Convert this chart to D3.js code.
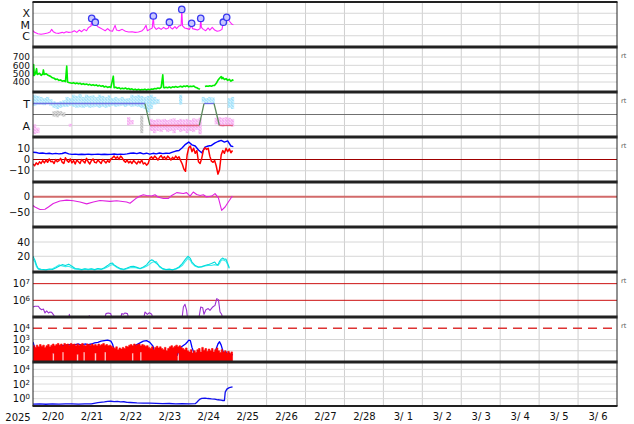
<!DOCTYPE html>
<html><head><meta charset="utf-8">
<script src="https://cdn.jsdelivr.net/npm/d3@7"></script>
<style>
body{margin:0;background:#fff;}
svg{display:block;font-family:"DejaVu Sans",sans-serif;}
</style></head><body>
<svg id="c" width="634" height="424"></svg>
<script>
// ---------- DATA (hours from 2025-02-20 00:00 UT) ----------
const xrayHours = [0,1,3,5,7,9,10.5,11.5,12.5,14,16,18,19,20.5,22,24,25.5,27,28.5,30,31.5,33,34,35,35.8,36.2,36.6,37.5,38.4,39,40,41.5,43,44.5,46,47.5,49,50.6,51.5,53,55,57,59,61,63,65,67,68.5,69.7,70.5,72,73.5,74.2,74.6,76,77.5,79,80.5,82,83.5,84.1,84.6,86,87.5,88.5,90,91.3,91.7,92.2,93.5,95,96.5,97.8,98.3,100,101.5,103,103.4,103.8,105,106.5,108,109,110.5,112,113.5,115,116.5,117.3,118.3,119.4,120.5,121.5,122.5,123.5];
const xrayFlux = [2.8e-6,2.0e-6,1.53e-6,1.34e-6,1.53e-6,1.75e-6,2.15e-6,3.7e-6,2.3e-6,1.75e-6,1.64e-6,2.0e-6,1.75e-6,2.3e-6,2.0e-6,2.15e-6,2.8e-6,2.0e-6,3.2e-6,2.3e-6,3.7e-6,2.8e-6,4.9e-6,6.4e-6,7.4e-6,3.5e-5,9.0e-6,1.1e-5,1.6e-5,9.0e-6,6.4e-6,4.9e-6,3.7e-6,2.8e-6,4.3e-6,2.8e-6,2.5e-6,8.4e-6,3.2e-6,2.8e-6,3.7e-6,2.5e-6,2.15e-6,2.3e-6,2.0e-6,2.15e-6,2.6e-6,4.3e-6,8.4e-6,2.8e-6,3.7e-6,4.9e-6,5.7e-5,6.4e-6,3.7e-6,5.2e-6,3.7e-6,5.6e-6,4.0e-6,4.9e-6,1.6e-5,5.6e-6,4.0e-6,6.4e-6,4.3e-6,7.4e-6,8.4e-6,2.2e-4,7.4e-6,4.9e-6,4.3e-6,3.7e-6,1.27e-5,4.3e-6,3.7e-6,3.2e-6,4.3e-6,3.5e-5,5.6e-6,3.7e-6,2.8e-6,4.9e-6,3.2e-6,5.6e-6,3.2e-6,2.5e-6,2.8e-6,3.7e-6,1.6e-5,1.27e-5,4.3e-5,2.5e-5,1.67e-5,1.1e-5,9.7e-6];
const flareHours = [36.2,38.4,74.2,84.1,91.7,97.8,103.4,117.3,119.4];
const flareFlux = [3.5e-5,1.6e-5,5.7e-5,1.6e-5,2.2e-4,1.27e-5,3.5e-5,1.6e-5,4.3e-5];
const xrayTicks = [1e-6,1e-5,1e-4];
const xrayTickLabels = ["C","M","X"];

const speedHours = [0,0.4,0.8,1.5,2.2,2.6,4,5,6,6.4,6.9,8,9,10,11,12,13,14,15,16,17,18,19,20,20.8,21.3,22,24,25,26,27,28,29,30,31,32,33,34,35,36,37,38,39,40,41,42,43,44,45,46,47,48,49.5,50,51,52,53,54,55,56,57,58,59,60,61,62,63,64,65,66,67,68,69,70,71,72,73,74,75,76,77,78,79,80,80.5,81,82,83,84,85,86,87,88,89,90,91,92,93,94,95,96,97,98,99,100,101,102,103,103.5,106,107,108,109,110,111,112,113,114,115,116,116.5,117,118,119,120,121,122,123,123.5];
const speedValues = [470,610,480,500,560,490,505,480,495,545,490,500,485,475,465,450,445,430,435,420,425,410,415,405,590,400,395,385,392,380,388,378,385,372,380,370,376,365,372,360,368,358,365,352,360,348,355,340,348,335,342,335,470,332,338,325,332,318,326,320,328,315,322,310,318,306,314,305,312,303,310,306,314,305,312,308,316,312,322,318,328,322,335,485,335,330,338,332,340,330,342,336,345,338,342,350,340,352,345,355,342,350,345,352,338,330,320,315,null,345,352,348,355,350,358,360,385,420,445,465,440,455,430,440,420,432,410,425,415];
const speedTicks = [400,500,600,700];

const sectorLineHours = [0,69,72.1,102.5,105.4,111.6,114.9,123.2];
const sectorLineValues = [1,1,-1,-1,1,1,-1,-1];
const sectorBinHours = [0,2,4,6,8,10,12,14,16,18,20,22,24,26,28,30,32,34,36,38,40,42,44,46,48,50,52,54,56,58,60,62,64,66,68,70,72,74,76,78,80,82,84,86,88,90,92,94,96,98,100,102,104,106,108,110,112,114,116,118,120,122];
const towardHi = [1.8,1.7,1.6,1.5,1.6,1.4,1.2,1.1,1.2,1.3,1.6,1.5,1.8,1.7,1.85,1.6,1.8,1.7,1.75,1.6,1.8,1.7,1.6,1.75,1.5,1.6,1.5,1.6,1.45,1.5,1.8,1.7,1.8,1.7,1.6,1.7,1.8,1.6,1.4,null,null,null,null,null,null,1.8,null,null,null,null,null,null,1.6,1.5,1.6,1.55,null,null,null,null,1.5,1.6];
const towardLo = [0.8,0.9,0.9,0.85,1.0,0.8,0.6,0.5,0.6,0.7,0.7,0.8,0.7,0.6,0.65,0.6,0.7,0.6,0.65,0.7,0.6,0.7,0.6,0.7,0.8,0.7,0.75,0.8,0.7,0.8,0.7,0.75,0.7,0.6,0.5,0.2,0.5,0.9,1.0,null,null,null,null,null,null,0.9,null,null,null,null,null,null,1.1,1.0,1.1,1.0,null,null,null,null,0.6,0.5];
const awayHi = [-0.9,-1.2,null,null,null,null,null,null,null,null,null,-0.85,null,null,null,null,null,null,null,null,null,null,null,null,null,null,null,null,null,-0.25,-0.5,null,null,null,null,null,-0.4,-0.5,-0.4,-0.45,-0.4,-0.5,-0.4,-0.35,-0.5,-0.4,-0.45,-0.4,-0.5,-0.35,-0.4,-0.3,null,null,null,null,-0.3,-0.25,-0.3,-0.25,-0.3,-0.4];
const awayLo = [-1.8,-1.7,null,null,null,null,null,null,null,null,null,-1.1,null,null,null,null,null,null,null,null,null,null,null,null,null,null,null,null,null,-1.0,-0.9,null,null,null,null,null,-1.5,-1.7,-1.5,-1.6,-1.4,-1.6,-1.5,-1.7,-1.4,-1.6,-1.5,-1.7,-1.5,-1.6,-1.4,-1.8,null,null,null,null,-0.9,-1.0,-1.1,-0.95,-1.0,-1.1];
const grayBinHours = [12,14,16,18,66];
const grayHi = [0.3,0.35,0.3,0.2,-0.1];
const grayLo = [-0.2,-0.25,-0.1,-0.2,-1.7];
const sectorTicks = [1,-1];
const sectorTickLabels = ["T","A"];

const btHours = [0,2,4,6,8,10,12,14,16,18,20,22,24,26,28,30,32,34,36,38,40,42,44,46,48,50,52,54,56,58,60,62,64,66,68,70,72,74,76,78,80,82,84,86,88,90,92,94,96,98,100,102,104,106,108,110,112,114,116,118,120,122,123.5];
const btValues = [6.5,6.2,5.5,5.8,5.2,5.6,5.0,5.4,5.0,5.3,6.2,5.0,4.6,4.8,4.4,4.7,4.5,4.8,4.4,4.6,4.8,4.5,4.7,4.4,4.6,4.9,4.5,4.8,4.6,5.0,5.5,5.8,5.2,6.0,5.0,5.6,4.8,5.5,5.0,5.8,5.2,5.6,5.4,6.5,7.5,8.0,10.5,13.5,15.5,13.0,12.0,8.5,6.0,11.0,12.0,12.5,14.5,16.0,17.0,15.5,16.5,12.0,11.5];
const bzValues = [-4,-5.5,-3,-4.5,-2,-3.5,-1,-3,-0.5,-2.5,0.5,
  -2,-1.5,-3.5,0,-2,-1,1,-2.5,-3.5,1.5,
  -1,-2.5,0.5,-3,-1,-4,-0.5,-2,-3.5,0,
  -1.5,-3,1,-2,-4,-1,0.5,-2.5,-3,-0.5,
  -2,-3.5,0,-1.5,-3,-1,-2.5,0.5,1.5,3,
  1,2.5,0,3,1.5,-1,-2.5,-0.5,-3,-1.5,
  -3.5,-1,-2.5,-4,-1.5,-3,-0.5,-4,-3,-5,
  -3.5,1,2.5,0.5,3,1.5,-0.5,2,3.5,1,
  2.5,0,3,1.5,-0.5,2,0.5,3,1,2.5,
  -1,-4,-8.5,-10.5,4,10.5,12,7,10,5.5,
  8,-2,-3.5,1,8,10.5,9,10,3,-1.5,
  -2.5,-1,-6,-13,-9,4,8,5.5,10,7,
  9.5,6,8];
const imfTicks = [10,0,-10];

const dstHours = [0,1.2,4.3,7.4,9.5,12.5,16.6,20.8,24.9,29,33.1,37.2,41.3,47.5,51.6,57.7,59.8,63.9,66,68,70,73.2,75.2,77.3,80.4,83.4,85.5,88.6,92.7,94.7,96.8,98.8,100.9,103,105,107,110.2,112.2,114.3,116.3,118.4,120.4,122.9];
const dstValues = [-28,-33,-41,-40,-33,-22,-14,-11,-13,-17,-23,-17,-12,-15,-13,-17,-21,-4,2,6,4,2,6,-2,-6,-6,4,13,10,13,2,15,7,4,6,-1,2,10,-4,-44,-33,-17,2];
const dstTicks = [0,-50];

const densHours = [0,1.2,2.2,3.3,5,8,10,12,14,16,18,20,22,24,26,28,30,32,34,36,38,40,42,44,46,47.5,49,50,52,54,56,58,60,62,64,66,68,70,72,73,74,76,77,78,80,82,84,86,88,90,92,94,95.5,97,98,100,102,104,106,108,110,112,113,114,115,116,117,118,119,120,121];
const densA = [20,14.4,7.5,2.7,1.8,1.2,2.2,1.5,3.5,6,8.3,7,9,6,3,2.5,1.5,2.5,1.8,2.5,1.5,3,2,4,7,9.7,10.5,8,5,2.7,1.8,3.5,5.5,6,4.5,3,5,8,13.5,15,14.4,10,8.3,6,2.7,1.5,2,1.2,2.5,5,9.7,16,20,17,12,7,5,5.5,7,8.3,10,12,9,8,13,16,17.5,15.8,16,10,4];
const densB = [16,12,5,2,1.2,0.8,1.5,2.5,5,8,6.5,5.5,6,4,2,1.5,1,2,1.2,2,1,2.2,1.5,3,5,7,8.5,7,4,2,1.2,2.5,4,4.5,3.5,2.5,4,6,9,11,12,12.5,9,5,2,1.2,1.5,1,2,4,7,13,17,14.5,10,6,4.5,5,6.5,7,7,8.3,7.5,7,10,14,15,14,13,8,3];
const densTicks = [20,40];

const elecHours = [0,1.2,3.3,4.3,5.3,6.4,7.4,8.4,9.5,10.5,11.5,12.9,14.2,21.8,22.4,23.2,34,34.7,35.5,43.8,45,46.4,47.9,49.1,53.6,54.7,55.7,56.7,58.2,59.4,68,69,70.5,71.7,73.2,74.2,91.7,92.7,93.7,94.7,95.4,102,103.4,104.6,105.4,106.6,108,109.1,110.8,112.2,113.3,114.3,115.3,116.3,117.3,123.5];
const elecFlux = [4e5,4.4e5,4.4e5,3.2e5,2.75e5,3e5,1.75e5,2.3e5,1.75e5,2e5,1.9e5,1.26e5,6e4,6e4,1.45e5,6e4,6e4,1.2e5,6e4,6e4,1.6e5,1.75e5,1.6e5,6e4,6e4,1.6e5,1.45e5,1.75e5,1.6e5,6e4,6e4,2e5,1.45e5,1.8e5,1.45e5,6e4,6e4,4e5,5.75e5,2.5e5,6e4,6e4,4e5,3.6e5,1.45e5,2.75e5,3.2e5,2.5e5,4e5,5e5,1.26e6,1.1e6,2e5,1.45e5,6e4,6e4];
const elecTicks = [1e6,1e7];

const protHours = [0,1,2,3,4,5,6,7,8,9,10,12,13,14,16,18,20,22,24,26,28,30,32,34,36,38,40,42,44,46,48,49,50,51,52,53,54,55,56,57,58,59,60,62,64,66,68,70,72,74,75,76,77,78,79,80,82,83,84,86,88,89,90,92,94,95,96,97,98,99,100,101,102,104,105,106,108,109,110,112,113,114,115,116,117,118,119,120,121,122,123];
const protLog = [2.78,2.3,1.6,1.2,1.9,1.3,2.1,1.5,2.2,1.4,2.2,2.25,1.8,2.3,2.4,2.45,2.5,2.55,2.5,2.55,2.6,2.5,2.6,2.55,2.6,2.7,2.75,2.85,2.9,2.95,2.85,2.6,2.1,1.6,1.3,1.8,1.2,1.6,1.1,1.5,1.3,1.9,2.3,2.4,2.55,2.7,2.85,2.9,2.75,2.4,1.8,1.4,1.9,1.3,1.7,1.2,1.6,1.2,1.5,1.3,2.0,1.6,2.2,2.4,2.6,2.75,2.95,2.9,2.3,1.9,1.5,1.8,1.3,1.6,1.2,1.7,1.4,1.8,1.3,1.7,2.2,2.6,2.8,2.5,2.0,1.6,1.9,1.4,1.8,1.5,1.7];
// hourly noise envelope of the red series (log10), hours 0..123
const bandHiLog = [2.45,2.3,2.5,2.35,2.55,2.4,2.5,2.3,2.45,2.55,2.35,2.5,
  2.6,2.45,2.55,2.65,2.5,2.6,2.45,2.65,2.55,2.6,2.5,2.65,
  2.55,2.6,2.45,2.6,2.5,2.55,2.65,2.5,2.45,2.6,2.55,2.5,
  2.6,2.5,2.55,2.45,2.6,2.5,2.55,2.65,2.5,2.55,2.45,2.5,
  2.4,2.3,2.2,2.35,2.1,2.25,2.15,2.3,2.2,2.4,2.35,2.5,
  2.55,2.45,2.6,2.5,2.55,2.6,2.45,2.55,2.5,2.4,2.45,2.3,
  2.2,2.35,2.1,2.3,2.4,2.25,2.35,2.2,2.1,2.3,2.0,2.2,
  2.35,2.45,2.3,2.4,2.5,2.35,2.45,2.3,2.2,2.1,2.25,2.0,
  1.9,2.1,1.8,2.0,1.85,2.1,2.2,1.9,2.3,2.05,2.2,1.95,
  2.15,2.0,2.2,1.9,2.1,2.25,2.0,1.85,2.1,1.9,2.0,1.8,
  1.95,1.75,1.9,1.8];
const bandLoLog = [1,1,1,1,1,1,1,1,1,1,1,1,
  1.8,1,1,1,1,1,1.9,1,1,1,1,1,
  1,1,1,1.7,1,1,1,1.9,1,1,1,1,
  1,1,1.8,1,1,1,1,1,1.9,1,1,1,
  1,1,1,1,1,1,1,1,1,1,1,1,
  1,1.8,1,1,1,1,1.9,1,1,1,1,1,
  1,1,1,1,1,1,1,1,1,1,1,1,
  1,1,1,1,1,1.8,1,1,1,1,1,1,
  1,1,1,1,1,1,1,1,1,1,1,1,
  1,1,1,1,1,1,1,1,1,1,1,1,
  1,1,1,1];
const protTicks = [1e2,1e3,1e4];

const eFluxHours = [0,4,8,12,16,20,24,28,32,36,40,44,46,48,50,52,54,56,58,60,64,68,72,76,80,84,88,92,96,100,101,102,103,104,106,108,110,112,114,116,117,118,118.5,119.5,121,123];
const eFluxLog = [-0.75,-0.72,-0.76,-0.7,-0.74,-0.72,-0.7,-0.74,-0.72,-0.7,-0.55,-0.45,-0.38,-0.35,-0.4,-0.38,-0.45,-0.42,-0.5,-0.52,-0.58,-0.6,-0.62,-0.65,-0.68,-0.66,-0.7,-0.68,-0.7,-0.68,-0.5,-0.25,-0.05,0.05,0.08,0.02,-0.02,-0.05,-0.15,-0.2,-0.25,-0.25,0.9,1.3,1.5,1.62];
const eFluxTicks = [1e0,1e2,1e4];

// ---------- LAYOUT ----------
const svg = d3.select("#c");
const L = 33, R = 617, TOP = 2, PH = 45, BOTTOM = 406;
const pt = i => TOP + PH*i;
const pb = i => Math.min(TOP + PH*(i+1), BOTTOM);
const T0 = Date.UTC(2025,1,20);
const x = d3.scaleUtc().domain([new Date(T0), new Date(Date.UTC(2025,2,7))]).range([L,R]);
const hx = h => x(new Date(T0 + h*3600000));

const ys = [
  d3.scaleLog().domain([1e-7,1e-3]).range([pb(0),pt(0)]),
  d3.scaleLinear().domain([280,820]).range([pb(1),pt(1)]),
  d3.scaleLinear().domain([-2.05,2.05]).range([pb(2),pt(2)]),
  d3.scaleLinear().domain([-20,20]).range([pb(3),pt(3)]),
  d3.scaleLinear().domain([-97,47]).range([pb(4),pt(4)]),
  d3.scaleLinear().domain([-2,61]).range([pb(5),pt(5)]),
  d3.scaleLog().domain([1e5,5e7]).range([pb(6),pt(6)]),
  d3.scaleLog().domain([1e1,1e5]).range([pb(7),pt(7)]),
  d3.scaleLog().domain([1e-1,1e5]).range([pb(8),pt(8)])
];

const defs = svg.append("defs");
ys.forEach((s,i)=>{
  defs.append("clipPath").attr("id","clip"+i).append("rect")
    .attr("x",L).attr("y",pt(i)).attr("width",R-L).attr("height",pb(i)-pt(i));
});
// speckle patterns for the sector dots
function speckle(id, color){
  const p = defs.append("pattern").attr("id",id).attr("width",3).attr("height",3).attr("patternUnits","userSpaceOnUse");
  p.append("rect").attr("width",3).attr("height",3).attr("fill",color).attr("opacity",0.6);
  p.append("rect").attr("x",0).attr("y",0).attr("width",2).attr("height",1).attr("fill",color);
  p.append("rect").attr("x",1).attr("y",1).attr("width",2).attr("height",1).attr("fill",color);
  p.append("rect").attr("x",0).attr("y",2).attr("width",1).attr("height",1).attr("fill",color);
}
speckle("spB","#a8e4fb");
speckle("spP","#f6b0f2");
speckle("spG","#c4c4c4");

// vertical gridlines (midnights)
const days = d3.utcDay.range(new Date(Date.UTC(2025,1,21)), new Date(Date.UTC(2025,2,7)));
const grid = svg.append("g");
grid.selectAll("line.v").data(days).join("line")
  .attr("x1",d=>x(d)).attr("x2",d=>x(d)).attr("y1",TOP).attr("y2",BOTTOM)
  .attr("stroke","#cfcfcf").attr("stroke-width",1);

function hgrid(i, vals, color, width, dash){
  grid.selectAll(null).data(vals).join("line")
    .attr("x1",L).attr("x2",R).attr("y1",d=>ys[i](d)).attr("y2",d=>ys[i](d))
    .attr("stroke",color).attr("stroke-width",width||1).attr("stroke-dasharray",dash||null);
}
hgrid(0, xrayTicks, "#d6d6d6");
hgrid(1, speedTicks, "#d6d6d6");
hgrid(2, sectorTicks, "#d6d6d6");
hgrid(2, [0], "#707070");
hgrid(3, [10,-10], "#d6d6d6");
hgrid(4, [-50], "#d6d6d6");
hgrid(5, densTicks, "#d6d6d6");
hgrid(7, [1e2,1e3], "#d6d6d6");
hgrid(8, [1e0,1e1,1e2,1e3,1e4], "#dcdcdc");

// ---------- MARKS ----------
const line = (xs, vs, yScale) => d3.line()
  .defined(i => vs[i] !== null && vs[i] !== undefined)
  .x(i => hx(xs[i])).y(i => yScale(vs[i]))(d3.range(xs.length));

function path(i, d, color, w){
  return svg.append("path").attr("clip-path",`url(#clip${i})`).attr("d",d)
    .attr("fill","none").attr("stroke",color).attr("stroke-width",w||1).attr("stroke-linejoin","round");
}

// panel 0 x-ray
path(0, line(xrayHours, xrayFlux, ys[0]), "#ff22ff", 1.1);
svg.append("g").selectAll("circle").data(d3.range(flareHours.length)).join("circle")
  .attr("cx",i=>hx(flareHours[i])).attr("cy",i=>ys[0](flareFlux[i])).attr("r",3.2)
  .attr("fill","#c8c8ff").attr("stroke","#3838f0").attr("stroke-width",1.3);

// panel 1 speed
path(1, line(speedHours, speedValues, ys[1]), "#00ee00", 1.6);

// panel 2 sector
const g2 = svg.append("g").attr("clip-path","url(#clip2)");
function bands(hours, hi, lo, fill){
  g2.selectAll(null).data(d3.range(hours.length).filter(i=>hi[i]!==null)).join("rect")
    .attr("x",i=>hx(hours[i])).attr("width",i=>hx(hours[i]+2)-hx(hours[i]))
    .attr("y",i=>ys[2](hi[i])).attr("height",i=>ys[2](lo[i])-ys[2](hi[i]))
    .attr("fill",fill);
}
bands(grayBinHours, grayHi, grayLo, "url(#spG)");
bands(sectorBinHours, awayHi, awayLo, "url(#spP)");
bands(sectorBinHours, towardHi, towardLo, "url(#spB)");
for(let k=0;k<sectorLineHours.length-1;k++){
  const a=sectorLineValues[k], b=sectorLineValues[k+1];
  const col = (a>0&&b>0) ? "#6e6ee0" : (a<0&&b<0) ? "#e0607e" : "#5c8a5c";
  g2.append("line").attr("x1",hx(sectorLineHours[k])).attr("x2",hx(sectorLineHours[k+1]))
    .attr("y1",ys[2](a)).attr("y2",ys[2](b)).attr("stroke",col).attr("stroke-width",1.3);
}

// panel 3 IMF
svg.append("line").attr("x1",L).attr("x2",R).attr("y1",ys[3](0)).attr("y2",ys[3](0))
  .attr("stroke","#a00000").attr("stroke-width",1);
path(3, line(btHours, btValues, ys[3]), "#0000ff", 1.4);
path(3, line(d3.range(bzValues.length), bzValues, ys[3]), "#ff0000", 1.5);

// panel 4 Dst
svg.append("line").attr("x1",L).attr("x2",R).attr("y1",ys[4](0)).attr("y2",ys[4](0))
  .attr("stroke","#d26a6a").attr("stroke-width",2);
path(4, line(dstHours, dstValues, ys[4]), "#e020e0", 1.1);

// panel 5 density
path(5, line(densHours, densB, ys[5]), "#40eeee", 1.1);
path(5, line(densHours, densA, ys[5]), "#00dcdc", 1.1);

// panel 6 electrons
hgrid(6, elecTicks, "#cc1111", 1);
path(6, line(elecHours, elecFlux, ys[6]), "#9a30d0", 1.1);

// panel 7 protons
path(7, line(protHours, protLog.map(v=>Math.pow(10,v)), ys[7]), "#0000ff", 1.3);
const area = d3.area().curve(d3.curveStepAfter).x(i=>hx(i))
  .y0(i=>ys[7](Math.pow(10,bandLoLog[i]))).y1(i=>ys[7](Math.pow(10,bandHiLog[i])));
svg.append("path").attr("clip-path","url(#clip7)").attr("d",area(d3.range(bandHiLog.length)))
  .attr("fill","#ff0000").attr("stroke","#ff0000").attr("stroke-width",0.6);
svg.append("line").attr("x1",L).attr("x2",R).attr("y1",ys[7](1e4)).attr("y2",ys[7](1e4))
  .attr("stroke","#dd3333").attr("stroke-width",1.4).attr("stroke-dasharray","9,6");

// panel 8 high-energy electrons
path(8, line(eFluxHours, eFluxLog.map(v=>Math.pow(10,v)), ys[8]), "#1010ee", 1.3);

// ---------- FRAMES ----------
const fr = svg.append("g");
fr.append("line").attr("x1",L).attr("x2",L).attr("y1",TOP).attr("y2",BOTTOM).attr("stroke","#222").attr("stroke-width",1);
fr.append("line").attr("x1",R).attr("x2",R).attr("y1",TOP).attr("y2",BOTTOM).attr("stroke","#222").attr("stroke-width",1);
fr.selectAll(null).data(d3.range(10)).join("line")
  .attr("x1",L-0.5).attr("x2",R+0.5)
  .attr("y1",i=>i===9?BOTTOM:pt(i)).attr("y2",i=>i===9?BOTTOM:pt(i))
  .attr("stroke","#222").attr("stroke-width",i=>(i===0||i===9)?2:3);

// ---------- AXES ----------
function yAxis(i, vals, fmt, size){
  const g = svg.append("g").attr("transform",`translate(${L},0)`)
    .call(d3.axisLeft(ys[i]).tickValues(vals).tickSize(0).tickPadding(3).tickFormat(fmt||(d=>d)));
  g.select(".domain").remove();
  g.selectAll("text").attr("font-family","DejaVu Sans").attr("font-size",size||10).attr("fill","#111");
  return g;
}
function powAxis(i, vals){
  const g = yAxis(i, vals, ()=>"");
  g.selectAll("text").each(function(d){
    const t = d3.select(this);
    t.append("tspan").text("10");
    t.append("tspan").attr("dy","-0.45em").attr("font-size",7).text(Math.round(Math.log10(d)));
  });
}
yAxis(0, xrayTicks, d=>xrayTickLabels[xrayTicks.indexOf(d)], 11);
yAxis(1, speedTicks, null, 9);
yAxis(2, sectorTicks, d=>sectorTickLabels[sectorTicks.indexOf(d)], 11);
yAxis(3, imfTicks, d=>d<0?"\u2212"+(-d):d);
yAxis(4, dstTicks, d=>d<0?"\u2212"+(-d):d);
yAxis(5, densTicks);
powAxis(6, elecTicks);
powAxis(7, protTicks);
powAxis(8, eFluxTicks);

const noon = days.map(d=>new Date(+d - 12*3600000)).concat([new Date(Date.UTC(2025,2,6,12))]);
const xa = svg.append("g").attr("transform",`translate(0,${BOTTOM})`)
  .call(d3.axisBottom(x).tickValues(noon).tickSize(0).tickPadding(7)
    .tickFormat(d=>{const dd=d.getUTCDate(); return (d.getUTCMonth()+1)+"/"+(dd<10?" "+dd:dd);}));
xa.select(".domain").remove();
xa.selectAll("text").attr("font-family","DejaVu Sans").attr("font-size",10).attr("fill","#111").style("white-space","pre");
svg.append("text").attr("x",18).attr("y",BOTTOM+14.5).attr("text-anchor","middle")
  .attr("font-size",10).attr("fill","#111").text("2025");

// small right-side labels
svg.selectAll("text.rt").data([1,2,3,6,7]).join("text").attr("class","rt")
  .attr("x",621).attr("y",i=>pt(i)+11).attr("font-size",6.5).attr("fill","#555").text("rt");
</script>
</body></html>
